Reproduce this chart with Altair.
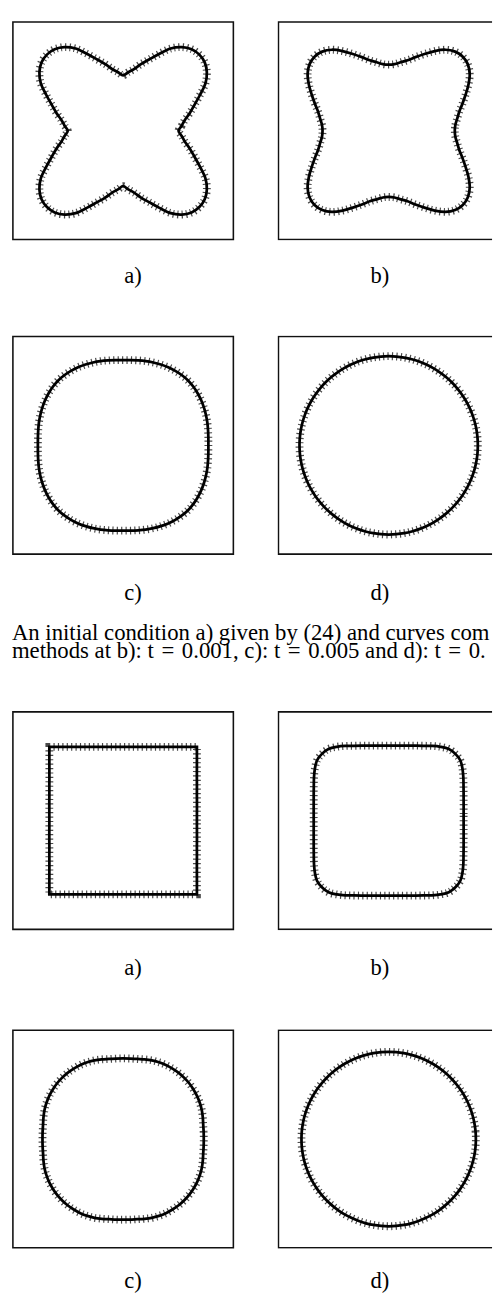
import altair as alt
import numpy as np
import pandas as pd

# Radius of each closed curve (px from the panel centre), read at 0,5,...,45 degrees
# from the horizontal axis; every curve has the 4-fold mirror symmetry of the figure.
OCTANT_DEG = [0, 5, 10, 15, 20, 25, 30, 35, 40, 45]

R_TOP_A = [56.5, 60.0, 64.0, 70.5, 77.5, 86.5, 97.0, 104.3, 108.7, 110.0]
R_TOP_B = [67.5, 68.3, 71.0, 74.5, 80.0, 86.5, 94.0, 101.0, 105.5, 107.0]
R_TOP_C = [87.0, 87.3, 88.0, 89.0, 90.0, 91.0, 92.0, 92.8, 93.4, 93.7]
R_TOP_D = [91.0, 91.0, 91.0, 91.0, 91.0, 91.0, 91.0, 91.0, 91.0, 91.0]

R_BOT_A = [75.3, 75.6, 76.5, 78.0, 80.1, 83.1, 86.9, 91.9, 98.3, 106.5]
R_BOT_B = [76.5, 76.8, 77.7, 79.2, 81.4, 84.3, 88.0, 92.0, 95.5, 96.3]
R_BOT_C = [82.3, 82.5, 83.0, 84.2, 85.5, 86.5, 87.3, 87.8, 88.2, 88.3]
R_BOT_D = [89.0, 89.0, 89.0, 89.0, 89.0, 89.0, 89.0, 89.0, 89.0, 89.0]

LABELS = ["a)", "b)", "c)", "d)"]
CAPTION = [
    "An initial condition a) given by (24) and curves com",
    "methods at b): t\u2004=\u20040.001, c): t\u2004=\u20040.005 and d): t\u2004=\u20040.",
]

FONT = "Liberation Serif"


def curve_frame(octant_r):
    """Mirror the read octant radii into the full closed curve."""
    rows = []
    i = 0
    for quad in range(4):
        for k in range(18):
            phi = k * 5
            idx = OCTANT_DEG.index(phi if phi <= 45 else 90 - phi)
            r = octant_r[idx]
            th = np.deg2rad(quad * 90 + phi)
            rows.append({"i": i, "x": r * np.cos(th), "y": r * np.sin(th)})
            i += 1
    return pd.DataFrame(rows)


def panel(octant_r, label, label_x, label_y, width, interp, clip):
    df = curve_frame(octant_r)
    axis = alt.Axis(
        title=label, labels=False, ticks=False, domain=False, grid=False,
        titleX=label_x, titleY=label_y, titleFont=FONT, titleFontSize=23,
        titleFontWeight="normal", titleColor="black",
        titleBaseline="alphabetic", titleAlign="center",
    )
    xs = alt.Scale(domain=[-113.5, -113.5 + width], nice=False, zero=False)
    ys = alt.Scale(domain=[-112, 112], nice=False, zero=False)

    frame = alt.Chart(pd.DataFrame({"k": [0]})).mark_rect(
        fillOpacity=0, stroke="#111111", strokeWidth=1.6, clip=clip
    ).encode(
        x=alt.XDatum(-112.5, type="quantitative", scale=xs, axis=axis),
        x2=alt.X2Datum(112.5),
        y=alt.YDatum(-111, type="quantitative", scale=ys, axis=None),
        y2=alt.Y2Datum(111),
    )
    enc = dict(
        x=alt.X("x:Q", scale=xs, axis=axis),
        y=alt.Y("y:Q", scale=ys, axis=None),
        order=alt.Order("i:Q"),
    )
    texture = alt.Chart(df).mark_line(
        interpolate=interp, stroke="#4a4a4a", strokeWidth=8,
        strokeDash=[1.2, 3.3], strokeCap="butt",
    ).encode(**enc)
    line = alt.Chart(df).mark_line(
        interpolate=interp, stroke="black", strokeWidth=2.8
    ).encode(**enc)
    return alt.layer(frame, texture, line).properties(width=width, height=224)


LW, RW = 227, 219


def row(r_left, r_right, lab_left, lab_right, label_y, interp_left="cardinal-closed"):
    return alt.hconcat(
        panel(r_left, lab_left, 123, label_y, LW, interp_left, False),
        panel(r_right, lab_right, 104, label_y, RW, "cardinal-closed", True),
        spacing=44,
    )


row1 = row(R_TOP_A, R_TOP_B, LABELS[0], LABELS[1], 43)
row2 = row(R_TOP_C, R_TOP_D, LABELS[2], LABELS[3], 45)
row3 = row(R_BOT_A, R_BOT_B, LABELS[0], LABELS[1], 45, interp_left="linear-closed")
row4 = row(R_BOT_C, R_BOT_D, LABELS[2], LABELS[3], 39)

cap_df = pd.DataFrame({"line": [0, 1], "text": CAPTION})
caption = alt.Chart(cap_df).mark_text(
    align="left", baseline="alphabetic", font=FONT, fontSize=23.2,
    color="black", clip=True,
).encode(
    x=alt.value(0),
    y=alt.Y("line:O", scale=alt.Scale(range=[37, 55], padding=0), axis=None),
    text="text:N",
).properties(width=LW + 44 + RW, height=109)

block1 = alt.vconcat(row1, row2, spacing=49)
block2 = alt.vconcat(row3, row4, spacing=51)

chart = alt.vconcat(block1, caption, block2, spacing=0).properties(
    padding={"left": 4, "top": 0, "right": 0, "bottom": 0},
    background="white",
).configure_view(stroke=None)

chart.save("out.html", embed_options={"renderer": "svg", "actions": False})
